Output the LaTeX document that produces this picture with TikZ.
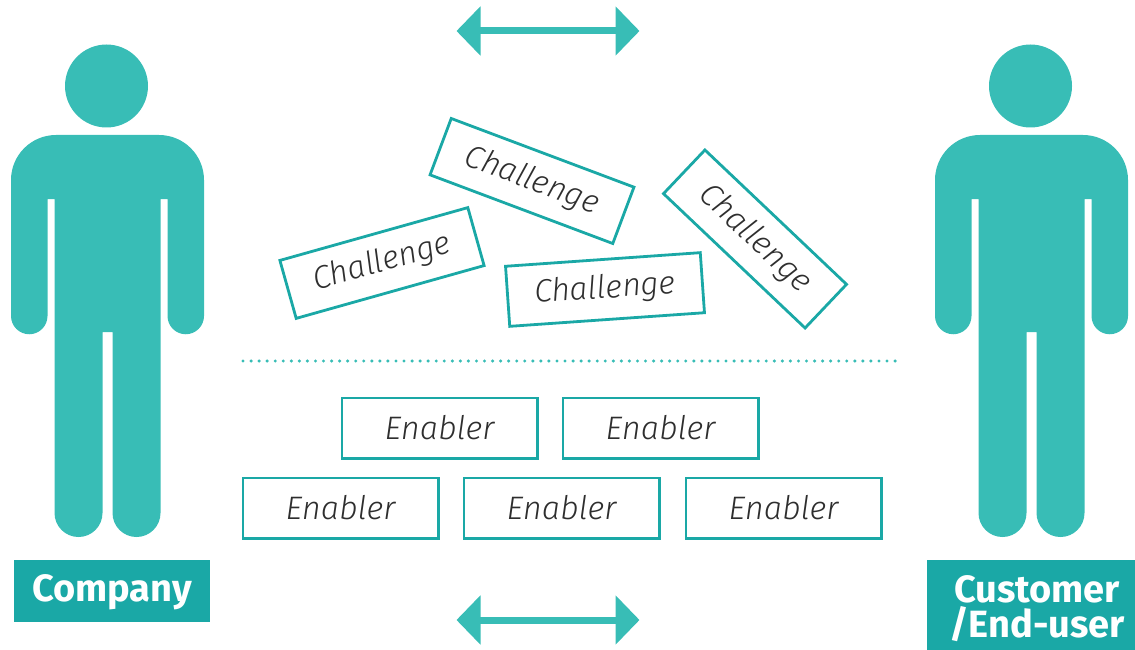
\documentclass[tikz,border=0pt]{standalone}
\usepackage{fontspec}
\usetikzlibrary{arrows.meta}
\setmainfont[ItalicFont={Fira Sans Light Italic}]{Fira Sans}

\definecolor{figteal}{HTML}{38BDB6}
\definecolor{boxteal}{HTML}{1AA8A6}
\definecolor{textgray}{HTML}{2E2E2E}

\tikzset{
  figure/.style={fill=figteal, draw=none},
  enabler/.style={draw=boxteal, line width=2.8pt, minimum width=195.2pt, minimum height=60.2pt, inner sep=0pt,
    text=textgray, font=\fontsize{32.5}{36}\selectfont\itshape},
  challenge/.style={enabler, font=\fontsize{32}{36}\selectfont\itshape},
  tag/.style={text=white, inner sep=0pt, align=center, font=\fontsize{38}{35}\selectfont\bfseries},
  biarrow/.style={draw=figteal, line width=7pt, {Triangle[length=24pt,width=48pt]}-{Triangle[length=24pt,width=48pt]}},
  dotline/.style={draw=figteal, line width=3.4pt, line cap=round, dash pattern=on 0pt off 8.05pt}
}

\begin{document}
\begin{tikzpicture}[x=1pt, y=-1pt]

\useasboundingbox (0,0) rectangle (1135,650);

% the two figures
\foreach \off in {0, 924} {
  \fill[figure] (106.5+\off, 86) circle (41.5);
  \fill[figure] (11+\off,180) arc (180:270:45) -- (159+\off,135) arc (270:360:45)
    -- (204+\off,316) arc (0:180:18.25)
    -- (167.5+\off,199) -- (160.5+\off,199) -- (160.5+\off,513) arc (0:180:24)
    -- (112.5+\off,332) -- (102.5+\off,332) -- (102.5+\off,513) arc (0:180:24)
    -- (54.5+\off,199) -- (47.5+\off,199) -- (47.5+\off,316) arc (0:180:18.25)
    -- cycle;
}

\fill[boxteal] (14,560) rectangle (210,622);
\fill[boxteal] (927,560) rectangle (1135,650);
\node[tag] (company) at (112, 592) {Company};
\node[tag] (customer) at (1037, 609) {Customer\\/End-user};

% arrows
\coordinate (topL) at (456.5, 31);
\coordinate (topR) at (639.5, 31);
\coordinate (botL) at (456.5, 620);
\coordinate (botR) at (639.5, 620);
\draw[biarrow] (topL) -- (topR);
\draw[biarrow] (botL) -- (botR);

% challenges
\node[challenge, rotate=-20.6] (chalA) at (532, 181) {Challenge};
\node[challenge, rotate=15.7] (chalB) at (382, 263) {Challenge};
\node[challenge, rotate=4] (chalC) at (605, 289.5) {Challenge};
\node[challenge, rotate=-43.5] (chalD) at (755, 239) {Challenge};

% divider
\coordinate (divL) at (243, 361);
\coordinate (divR) at (897, 361);
\draw[dotline] (divL) -- (divR);

% enablers
\node[enabler] (enabA) at (439.5, 428) {Enabler};
\node[enabler] (enabB) at (660.5, 428) {Enabler};
\node[enabler] (enabC) at (340.5, 508) {Enabler};
\node[enabler] (enabD) at (561.5, 508) {Enabler};
\node[enabler] (enabE) at (783.5, 508) {Enabler};

\end{tikzpicture}
\end{document}
